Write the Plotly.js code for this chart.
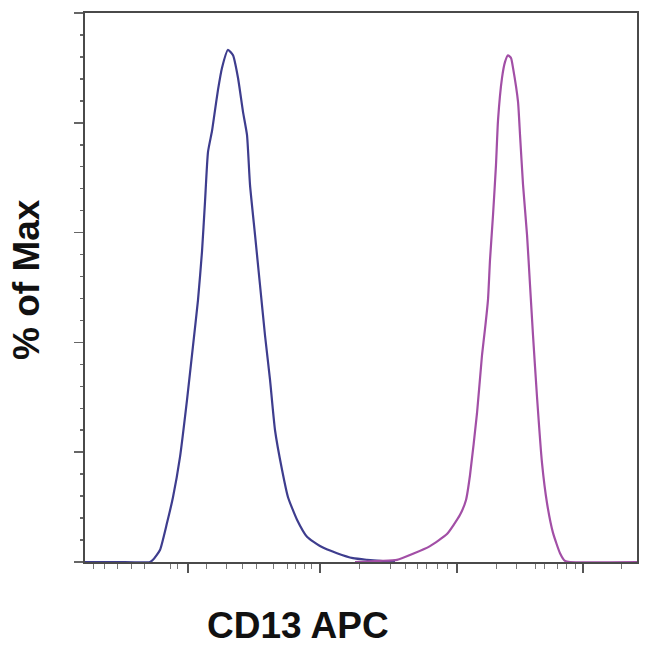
<!DOCTYPE html>
<html>
<head>
<meta charset="utf-8">
<script src="https://cdn.plot.ly/plotly-3.0.1.min.js"></script>
<style>html,body{margin:0;padding:0;background:#fff;}#chart{width:650px;height:650px;}</style>
</head>
<body>
<div id="chart"></div>
<script>
// Isotype control (blue) histogram: channel vs % of Max
const controlChannel = [0, 60, 120.6, 126.1, 139.1, 152.1, 163.2, 176.2, 189.2, 200.4, 209.6, 217.0, 222.6, 228.2, 235.6, 240.0, 246.7, 254.1, 265.3, 274.6, 283.8, 293.1, 300.5, 306.1, 315.4, 324.6, 333.9, 343.2, 352.5, 365.5, 376.6, 393.3, 411.8, 435.9, 467.5, 497.2, 523.1, 547.2, 575];
const controlValues  = [0, 0, 0, 0.4, 2.2, 7.1, 11.8, 19.1, 29.5, 39.4, 47.7, 56.5, 65.6, 74.7, 78.5, 81.5, 86.0, 90.0, 93.3, 92.3, 88.2, 82.0, 77.8, 68.7, 59.6, 50.5, 41.3, 33.2, 24.0, 16.8, 11.8, 7.7, 4.6, 2.9, 1.6, 0.7, 0.4, 0.2, 0];

// CD13 APC stained (magenta) histogram
const cd13Channel = [500.9, 547.2, 578.8, 608.5, 640.0, 671.5, 695.7, 706.8, 714.2, 727.2, 736.5, 742.0, 747.6, 751.3, 756.9, 762.4, 766.2, 773.6, 779.2, 784.7, 790.3, 794.0, 803.3, 807.0, 812.6, 820.0, 825.5, 831.1, 838.5, 847.8, 857.1, 868.2, 881.2, 890.4, 899.7, 1024];
const cd13Values  = [0, 0.2, 0.4, 1.5, 2.9, 5.1, 8.6, 11.3, 15.8, 27.1, 37.7, 42.4, 47.8, 55.0, 63.2, 72.3, 80.5, 88.2, 91.1, 92.3, 91.8, 90.0, 83.8, 77.8, 68.7, 59.6, 50.5, 41.3, 30.1, 18.0, 10.7, 5.3, 1.6, 0.2, 0, 0];

// Axis tick positions (channel units, biexponential display)
const xMajorTicks = [191, 436, 690, 924];
const xMinorTicks = [15, 37, 61, 87, 111, 158, 171, 226, 263, 293, 319, 349, 375, 390, 408, 421, 510, 566, 594, 616, 634, 653, 672, 764, 801, 835, 853, 876, 894, 909, 996];
const yMajorTicks = [0, 20, 40, 60, 80, 100];

const traces = [
  {x: controlChannel, y: controlValues, type: 'scatter', mode: 'lines',
   line: {color: '#3e3d8e', width: 2.2, shape: 'spline', smoothing: 0.5}, name: 'Control', hoverinfo: 'skip'},
  {x: cd13Channel, y: cd13Values, type: 'scatter', mode: 'lines',
   line: {color: '#a24fa6', width: 2.2, shape: 'spline', smoothing: 0.5}, name: 'CD13 APC', hoverinfo: 'skip'}
];

const layout = {
  width: 650, height: 650,
  margin: {l: 85, r: 13, t: 13, b: 88},
  paper_bgcolor: '#ffffff', plot_bgcolor: '#ffffff',
  showlegend: false,
  xaxis: {
    range: [0, 1024], showgrid: false, zeroline: false,
    showline: true, mirror: true, linecolor: '#4a4a4a', linewidth: 2,
    tickmode: 'array', tickvals: xMajorTicks, showticklabels: false,
    ticks: 'outside', ticklen: 9, tickwidth: 1.5, tickcolor: '#555',
    minor: {tickmode: 'array', tickvals: xMinorTicks, ticks: 'outside', ticklen: 5, tickwidth: 1, tickcolor: '#777'}
  },
  yaxis: {
    range: [0, 100], showgrid: false, zeroline: false,
    showline: true, mirror: true, linecolor: '#4a4a4a', linewidth: 2,
    tickmode: 'array', tickvals: yMajorTicks, showticklabels: false,
    ticks: 'outside', ticklen: 9, tickwidth: 1.5, tickcolor: '#666',
    minor: {dtick: 4, tick0: 0, ticks: 'outside', ticklen: 3, tickwidth: 1.5, tickcolor: '#666'}
  },
  annotations: [
    {text: 'CD13 APC', xref: 'paper', yref: 'paper', x: (298 - 85) / 552, y: -(625 - 562) / 549,
     xanchor: 'center', yanchor: 'middle', showarrow: false,
     font: {family: 'Liberation Sans, Arial, sans-serif', size: 37, color: '#111', weight: 'bold'}},
    {text: '% of Max', xref: 'paper', yref: 'paper', x: -(85 - 26) / 552, y: (562 - 280) / 549,
     xanchor: 'center', yanchor: 'middle', showarrow: false, textangle: -90,
     font: {family: 'Liberation Sans, Arial, sans-serif', size: 37, color: '#111', weight: 'bold'}}
  ]
};

Plotly.newPlot('chart', traces, layout, {displayModeBar: false, staticPlot: true});
</script>
</body>
</html>
